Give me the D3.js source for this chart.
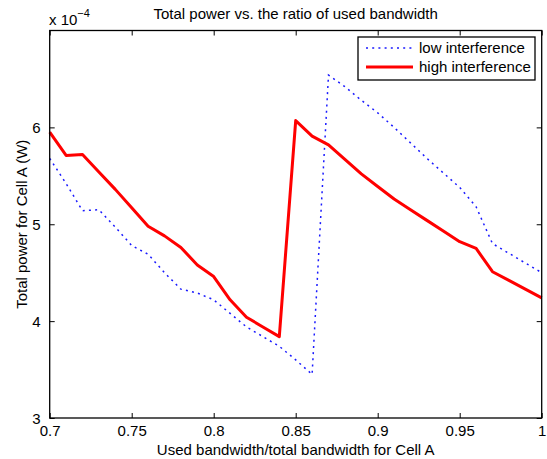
<!DOCTYPE html>
<html><head><meta charset="utf-8">
<script src="https://cdn.jsdelivr.net/npm/d3@7"></script>
<style>body{margin:0;background:#fff}svg{display:block;font-family:"Liberation Sans",Arial,sans-serif}</style>
</head><body><svg id="c" width="547" height="459"></svg>
<script>
const ratio = [0.70,0.71,0.72,0.73,0.74,0.75,0.76,0.77,0.78,0.79,0.80,0.81,0.82,0.83,0.84,0.85,0.86,0.87,0.88,0.89,0.90,0.91,0.92,0.93,0.94,0.95,0.96,0.97,0.98,0.99,1.00];
const lowInterference = [5.68,5.42,5.14,5.15,4.97,4.78,4.69,4.50,4.33,4.29,4.22,4.08,3.94,3.84,3.74,3.60,3.45,6.54,6.42,6.28,6.15,6.00,5.84,5.68,5.53,5.38,5.18,4.80,4.70,4.60,4.50];
const highInterference = [5.95,5.71,5.72,5.54,5.36,5.17,4.98,4.88,4.76,4.58,4.46,4.22,4.04,3.94,3.84,6.07,5.91,5.82,5.67,5.52,5.39,5.26,5.15,5.04,4.93,4.82,4.75,4.51,4.42,4.33,4.24];
const xTicks = [0.7,0.75,0.8,0.85,0.9,0.95,1];
const xTickLabels = ["0.7","0.75","0.8","0.85","0.9","0.95","1"];
const yTicks = [3,4,5,6];
const seriesNames = ["low interference","high interference"];

const L=49.7,R=541.7,T=30.5,B=418;
const svg=d3.select("#c");
const x=d3.scaleLinear().domain([0.7,1]).range([L,R]);
const y=d3.scaleLinear().domain([3,7]).range([B,T]);
const fs=15;

const xb=svg.append("g").attr("transform",`translate(0,${B})`)
 .call(d3.axisBottom(x).tickValues(xTicks).tickFormat((d,i)=>xTickLabels[i]).tickSizeInner(-5).tickSizeOuter(0).tickPadding(9));
const xt=svg.append("g").attr("transform",`translate(0,${T})`)
 .call(d3.axisTop(x).tickValues(xTicks).tickFormat("").tickSizeInner(-5).tickSizeOuter(0));
const yl=svg.append("g").attr("transform",`translate(${L},0)`)
 .call(d3.axisLeft(y).tickValues(yTicks).tickFormat(d3.format("d")).tickSizeInner(-5).tickSizeOuter(0).tickPadding(9));
const yr=svg.append("g").attr("transform",`translate(${R},0)`)
 .call(d3.axisRight(y).tickValues(yTicks).tickFormat("").tickSizeInner(-5).tickSizeOuter(0));
[xb,xt,yl,yr].forEach(g=>{g.select(".domain").remove();g.selectAll("line").attr("stroke","#000");g.selectAll("text").attr("font-size",fs).attr("fill","#000").attr("font-family","Liberation Sans, Arial, sans-serif");});
xb.selectAll("text").attr("dy","0.6em");
yl.selectAll("text").attr("dy","0.35em");

const line=(vals)=>d3.line().x((d,i)=>x(ratio[i])).y(d=>y(d))(vals);
svg.append("path").attr("d",line(lowInterference)).attr("fill","none").attr("stroke","#1a1aff").attr("stroke-width",1.5).attr("stroke-dasharray","2,4.2");
svg.append("path").attr("d",line(highInterference)).attr("fill","none").attr("stroke","#ff0000").attr("stroke-width",3).attr("stroke-linejoin","round");

svg.append("rect").attr("x",L).attr("y",T).attr("width",R-L).attr("height",B-T).attr("fill","none").attr("stroke","#000").attr("stroke-width",1.3);

svg.append("text").attr("x",(L+R)/2).attr("y",19).attr("text-anchor","middle").attr("font-size",fs).text("Total power vs. the ratio of used bandwidth");
svg.append("text").attr("x",(L+R)/2).attr("y",455).attr("text-anchor","middle").attr("font-size",fs).text("Used bandwidth/total bandwidth for Cell A");
svg.append("text").attr("transform",`translate(27,${(T+B)/2}) rotate(-90)`).attr("text-anchor","middle").attr("font-size",fs).text("Total power for Cell A (W)");
const ex=svg.append("text").attr("x",49).attr("y",25).attr("font-size",fs);
ex.append("tspan").text("x 10");
ex.append("tspan").attr("font-size",11).attr("dy",-8).text("−4");

const lg=svg.append("g");
lg.append("rect").attr("x",358).attr("y",37).attr("width",177).attr("height",43).attr("fill","#fff").attr("stroke","#000").attr("stroke-width",1.3);
const rows=[{n:seriesNames[0],c:"#1a1aff",w:1.5,da:"2,4.2"},{n:seriesNames[1],c:"#ff0000",w:3,da:null}];
rows.forEach((r,i)=>{
 const yy=48+i*19;
 lg.append("line").attr("x1",366).attr("x2",413).attr("y1",yy).attr("y2",yy).attr("stroke",r.c).attr("stroke-width",r.w).attr("stroke-dasharray",r.da);
 lg.append("text").attr("x",419).attr("y",yy).attr("dy","0.35em").attr("font-size",fs).text(r.n);
});
</script></body></html>
